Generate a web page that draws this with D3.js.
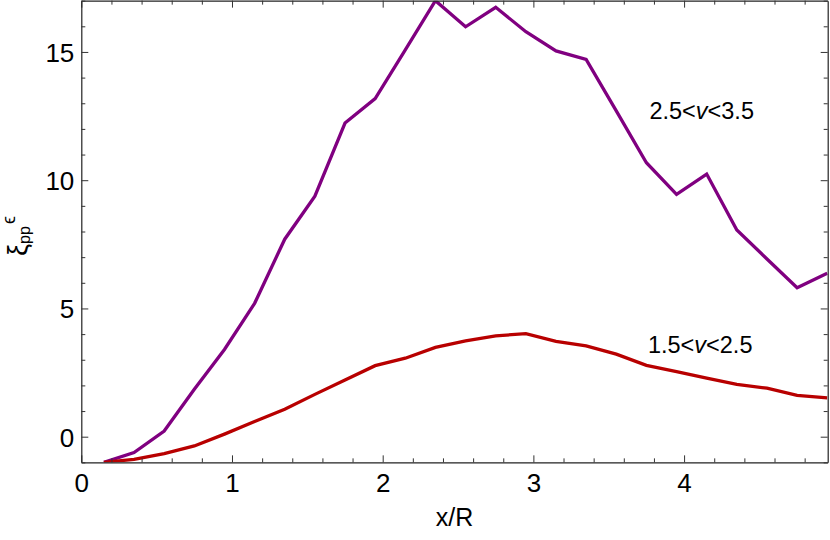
<!DOCTYPE html>
<html>
<head>
<meta charset="utf-8">
<script src="https://cdn.jsdelivr.net/npm/d3@7"></script>
<style>
  body { margin: 0; background: #fff; }
  text { font-family: "Liberation Sans", Arial, sans-serif; fill: #000; }
</style>
</head>
<body>
<div id="chart"></div>
<script>
// x positions shared by both curves
const xValues = [0.15, 0.35, 0.55, 0.75, 0.95, 1.15, 1.35, 1.55, 1.75, 1.95, 2.15, 2.35, 2.55,
  2.75, 2.95, 3.15, 3.35, 3.55, 3.75, 3.95, 4.15, 4.35, 4.55, 4.75, 4.95];

const highV = [-1.0, -0.62, 0.22, 1.85, 3.4, 5.2, 7.7, 9.38, 12.23, 13.18, 15.08, 17.0, 15.98,
  16.74, 15.79, 15.04, 14.71, 12.7, 10.68, 9.45, 10.24, 8.06, 6.93, 5.81, 6.37];

const lowV = [-1.0, -0.88, -0.66, -0.36, 0.1, 0.59, 1.07, 1.65, 2.21, 2.77, 3.06, 3.48, 3.74,
  3.93, 4.02, 3.72, 3.54, 3.22, 2.78, 2.54, 2.28, 2.04, 1.89, 1.61, 1.51];

const xTicks = [0, 1, 2, 3, 4];
const yTicks = [0, 5, 10, 15];

const width = 830, height = 540;
const margin = { top: 0.65, right: 2.3, bottom: 77.65, left: 81.3 };

const x = d3.scaleLinear().domain([0, 4.953]).range([margin.left, width - margin.right]);
const y = d3.scaleLinear().domain([-1, 17]).range([height - margin.bottom, margin.top]);

const svg = d3.select("#chart").append("svg")
  .attr("width", width)
  .attr("height", height);

svg.append("defs").append("clipPath").attr("id", "plot")
  .append("rect")
  .attr("x", x(0)).attr("y", y(17))
  .attr("width", x(4.953) - x(0)).attr("height", y(-1) - y(17));

// series
const line = d3.line().x((d) => x(d[0])).y((d) => y(d[1]));
const series = [
  { values: highV, color: "#800080" },
  { values: lowV, color: "#b80000" },
];
svg.append("g").attr("clip-path", "url(#plot)")
  .selectAll("path")
  .data(series)
  .join("path")
  .attr("d", (s) => line(xValues.map((xv, i) => [xv, s.values[i]])))
  .attr("fill", "none")
  .attr("stroke", (s) => s.color)
  .attr("stroke-width", 3.3)
  .attr("stroke-linejoin", "miter");

// frame with inward ticks on all sides
const xMinor = d3.range(0, 4.95, 0.2).filter((v) => Math.abs(v - Math.round(v)) > 1e-6);
const yMinor = d3.range(-1, 17.01, 1).filter((v) => v % 5 !== 0);

const axisStyle = (g) => {
  g.select(".domain").attr("stroke", "#222").attr("stroke-width", 1.2);
  g.selectAll(".tick line").attr("stroke", "#333").attr("stroke-width", 1);
};

const addAxis = (gen, tx, ty, major, minor, labels) => {
  const g = svg.append("g").attr("transform", `translate(${tx},${ty})`);
  g.call(gen.tickValues(major).tickSizeInner(-7).tickSizeOuter(0)
    .tickPadding(labels ? 18 : 0).tickFormat(labels ? d3.format("d") : ""));
  g.append("g").call(gen.tickValues(minor).tickSizeInner(-4).tickSizeOuter(0).tickFormat(""))
    .select(".domain").remove();
  axisStyle(g);
  g.selectAll("text").style("font-size", "26px")
    .style("font-family", "'Liberation Sans', Arial, sans-serif").attr("fill", "#000");
  return g;
};

const xb = addAxis(d3.axisBottom(x), 0, y(-1), xTicks, xMinor, true);
addAxis(d3.axisTop(x), 0, y(17), xTicks, xMinor, false);
const yl = addAxis(d3.axisLeft(y), x(0), 0, yTicks, yMinor, true);
addAxis(d3.axisRight(y), x(4.953), 0, yTicks, yMinor, false);
yl.selectAll(".tick text").attr("x", -7).attr("dy", "0.36em");
xb.selectAll(".tick text").attr("y", 29.5).attr("dy", 0);

// axis titles
svg.append("text")
  .attr("x", (x(0) + x(4.953)) / 2)
  .attr("y", 526)
  .attr("text-anchor", "middle")
  .style("font-size", "25px")
  .text("x/R");

const yt = svg.append("text")
  .attr("transform", "translate(27,256) rotate(-90)")
  .attr("text-anchor", "start")
  .style("font-size", "27px");
yt.append("tspan").text("ξ");
yt.append("tspan").attr("dy", 3).style("font-size", "16px").text("pp");
yt.append("tspan").attr("dy", -15).attr("dx", 2).style("font-size", "18px").text("ϵ");

// curve annotations
const notes = [
  { text: ["2.5<", "v", "<3.5"], xv: 3.77, yv: 12.4 },
  { text: ["1.5<", "v", "<2.5"], xv: 3.76, yv: 3.27 },
];
svg.selectAll("text.note")
  .data(notes)
  .join("text")
  .attr("class", "note")
  .attr("x", (d) => x(d.xv))
  .attr("y", (d) => y(d.yv))
  .style("font-size", "23.5px")
  .each(function (d) {
    const t = d3.select(this);
    t.append("tspan").text(d.text[0]);
    t.append("tspan").style("font-style", "italic").text(d.text[1]);
    t.append("tspan").text(d.text[2]);
  });
</script>
</body>
</html>
